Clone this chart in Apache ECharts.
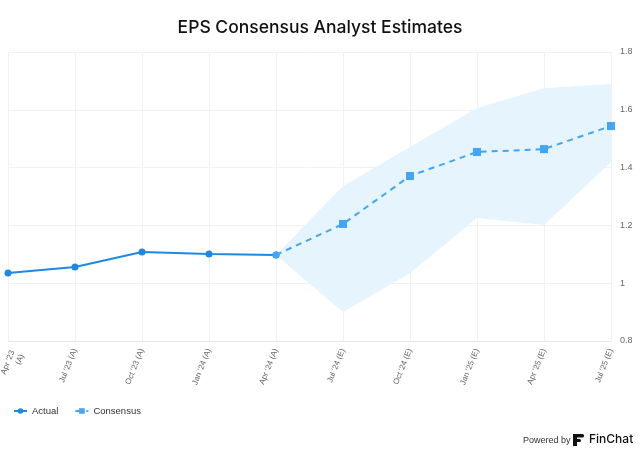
<!DOCTYPE html>
<html>
<head>
<meta charset="utf-8">
<script src="https://cdn.jsdelivr.net/npm/echarts@6/dist/echarts.min.js"></script>
<style>
html,body{margin:0;padding:0;background:#fff;}
#chart{width:640px;height:454px;}
</style>
</head>
<body>
<div id="chart"></div>
<script>
const categories = ["Apr '23\n(A)", "Jul '23 (A)", "Oct '23 (A)", "Jan '24 (A)", "Apr '24 (A)", "Jul '24 (E)", "Oct '24 (E)", "Jan '25 (E)", "Apr '25 (E)", "Jul '25 (E)"];
const actual = [1.035, 1.056, 1.108, 1.101, 1.098, null, null, null, null, null];
const consensus = [null, null, null, null, 1.098, 1.205, 1.371, 1.454, 1.464, 1.544];
const bandLow = [null, null, null, null, 1.098, 0.900, 1.035, 1.226, 1.201, 1.419];
const bandHigh = [null, null, null, null, 1.098, 1.336, 1.471, 1.606, 1.675, 1.689];
const yTicks = [0.8, 1.0, 1.2, 1.4, 1.6, 1.8];

const bandDiff = bandHigh.map((h, i) => (h == null || bandLow[i] == null) ? null : +(h - bandLow[i]).toFixed(3));
const consensusData = consensus.map((v, i) => (i === 4 && v != null) ? { value: v, symbol: 'circle', symbolSize: 7 } : v);

const chart = echarts.init(document.getElementById('chart'), null, { renderer: 'canvas' });
const option = {
  animation: false,
  backgroundColor: '#ffffff',
  title: {
    text: 'EPS Consensus Analyst Estimates',
    left: 'center',
    top: 14,
    textStyle: { fontFamily: 'Inter', fontSize: 17.5, fontWeight: 500, color: '#111' }
  },
  legend: {
    data: ['Actual', 'Consensus'],
    left: 8,
    top: 401,
    itemWidth: 13,
    itemHeight: 7,
    itemGap: 16,
    textStyle: { fontFamily: 'Liberation Sans', fontSize: 9.5, color: '#333' }
  },
  grid: { left: 8, right: 29, top: 52, bottom: 113, containLabel: false, outerBoundsMode: 'none' },
  xAxis: {
    type: 'category',
    data: categories,
    boundaryGap: false,
    axisLine: { show: true, lineStyle: { color: '#e6e6e6' } },
    axisTick: { show: false },
    splitLine: { show: true, lineStyle: { color: '#f2f2f2' } },
    axisLabel: {
      rotate: 68,
      fontSize: 8,
      color: '#666',
      fontFamily: 'Liberation Sans',
      margin: 8,
      interval: 0,
      lineHeight: 10,
      formatter: function (v, i) { return i === 0 ? '{first|' + v.replace('\n', '}\n{first|') + '}' : v; },
      rich: {
        first: { fontSize: 8, color: '#666', fontFamily: 'Liberation Sans', lineHeight: 10, padding: [20, 0, 0, 0] }
      }
    }
  },
  yAxis: {
    type: 'value',
    position: 'right',
    min: yTicks[0],
    max: yTicks[yTicks.length - 1],
    interval: 0.2,
    axisLine: { show: false },
    axisTick: { show: false },
    splitLine: { show: true, lineStyle: { color: '#f2f2f2' } },
    axisLabel: { fontSize: 9, color: '#666', fontFamily: 'Liberation Sans', margin: 9 }
  },
  series: [
    {
      name: 'bandLow',
      type: 'line',
      data: bandLow,
      stack: 'band',
      symbol: 'none',
      lineStyle: { opacity: 0 },
      silent: true,
      z: 1
    },
    {
      name: 'bandRange',
      type: 'line',
      data: bandDiff,
      stack: 'band',
      symbol: 'none',
      lineStyle: { opacity: 0 },
      areaStyle: { color: '#e6f4fe', opacity: 1 },
      silent: true,
      z: 1
    },
    {
      name: 'Actual',
      type: 'line',
      data: actual,
      symbol: 'circle',
      symbolSize: 7,
      color: '#1e88e5',
      lineStyle: { color: '#1e88e5', width: 2 },
      itemStyle: { color: '#1e88e5' },
      z: 3
    },
    {
      name: 'Consensus',
      type: 'line',
      data: consensusData,
      symbol: 'rect',
      symbolSize: 8,
      color: '#42a5f5',
      lineStyle: { color: '#42a5f5', width: 2, type: [6, 5] },
      itemStyle: { color: '#42a5f5' },
      z: 4
    }
  ],
  graphic: [
    {
      type: 'text',
      left: 523,
      top: 436,
      style: { text: 'Powered by', fontSize: 9, fontFamily: 'Liberation Sans', fill: '#333' }
    },
    {
      type: 'group',
      left: 573,
      top: 434,
      children: [
        { type: 'rect', shape: { x: 0, y: 0, width: 11, height: 3.5, r: [0, 1.5, 1.5, 0] }, style: { fill: '#111' } },
        { type: 'rect', shape: { x: 0, y: 5, width: 8, height: 3, r: [0, 1.5, 1.5, 0] }, style: { fill: '#111' } },
        { type: 'rect', shape: { x: 0, y: 0, width: 4, height: 12 }, style: { fill: '#111' } }
      ]
    },
    {
      type: 'text',
      left: 589,
      top: 433,
      style: { text: 'FinChat', fontSize: 12, fontWeight: 500, fontFamily: 'Inter', fill: '#111' }
    }
  ]
};
chart.setOption(option);
</script>
</body>
</html>
